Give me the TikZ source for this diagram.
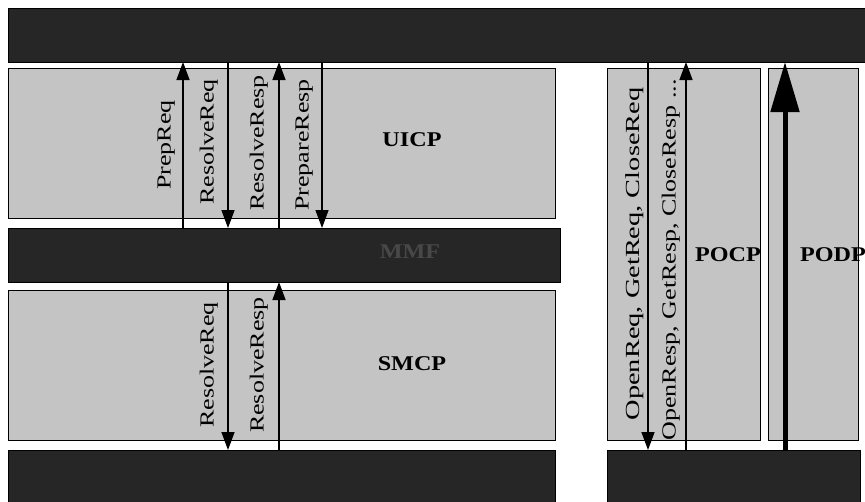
\documentclass[tikz,border=0pt]{standalone}
\usepackage{fontspec}
\setmainfont{Liberation Serif}
\usetikzlibrary{arrows.meta}
\definecolor{lightfill}{RGB}{196,196,196}
\definecolor{darkfill}{RGB}{38,38,38}
\definecolor{darktext}{RGB}{72,72,72}
\newcommand\arrlabel[1]{\scalebox{1.3}[1]{#1}}
\newcommand\longlabel[1]{\scalebox{1.42}[1]{#1}}
\newcommand\boxlabel[1]{\scalebox{1.15}[1]{\bfseries #1}}
\tikzset{
  lightbox/.style={draw=black, line width=1pt, fill=lightfill, anchor=north west, inner sep=0pt, outer sep=0pt},
  darkbar/.style={draw=black, line width=1pt, fill=darkfill, anchor=north west, inner sep=0pt, outer sep=0pt},
  msg/.style={line width=1.5pt, -{Triangle[length=18pt,width=13pt]}},
  bigmsg/.style={line width=5pt, -{Triangle[length=50pt,width=28pt]}},
  lab/.style={rotate=90, anchor=south, inner sep=0pt, font=\fontsize{20}{22}\selectfont},
  blab/.style={inner sep=0pt, font=\fontsize{21}{23}\selectfont},
}
\begin{document}
\begin{tikzpicture}[x=1pt,y=1pt]
\useasboundingbox (0,0) rectangle (865,-501);
% bars and boxes
\node[darkbar, minimum width=858pt, minimum height=54pt] (top) at (8,-8) {};
\node[lightbox, minimum width=547pt, minimum height=150pt] (uicp) at (8,-68) {};
\node[darkbar, minimum width=552pt, minimum height=54pt] (mmf) at (8,-228) {};
\node[lightbox, minimum width=547pt, minimum height=150pt] (smcp) at (8,-290) {};
\node[darkbar, minimum width=547pt, minimum height=52pt] (sma) at (8,-450) {};
\node[lightbox, minimum width=153pt, minimum height=372pt] (pocp) at (607,-68) {};
\node[lightbox, minimum width=90pt, minimum height=372pt] (podp) at (768,-68) {};
\node[darkbar, minimum width=253pt, minimum height=52pt] (pobar) at (607,-450) {};
% box labels
\node[blab] (uicpl) at (412,-140) {\boxlabel{UICP}};
\node[blab] (smcpl) at (412,-364) {\boxlabel{SMCP}};
\node[blab] (pocpl) at (728,-255) {\boxlabel{POCP}};
\node[blab] (podpl) at (833,-255) {\boxlabel{PODP}};
\node[blab, text=darktext] (mmfl) at (410,-252) {\boxlabel{MMF}};
% arrow x positions
\coordinate (x1) at (183,0);
\coordinate (x2) at (228,0);
\coordinate (x3) at (279,0);
\coordinate (x4) at (322,0);
\coordinate (x5) at (648,0);
\coordinate (x6) at (686,0);
\coordinate (x7) at (785,0);
% upper arrows
\draw[msg] (mmf.north -| x1) -- (top.south -| x1);
\draw[msg] (top.south -| x2) -- (mmf.north -| x2);
\draw[msg] (mmf.north -| x3) -- (top.south -| x3);
\draw[msg] (top.south -| x4) -- (mmf.north -| x4);
% lower arrows
\draw[msg] (mmf.south -| x2) -- (sma.north -| x2);
\draw[msg] (sma.north -| x3) -- (mmf.south -| x3);
% right arrows
\draw[msg] (top.south -| x5) -- (pobar.north -| x5);
\draw[msg] (pobar.north -| x6) -- (top.south -| x6);
\draw[bigmsg] (pobar.north -| x7) -- (top.south -| x7);
% arrow labels
\node[lab] (l1) at (175,-145) {\arrlabel{PrepReq}};
\node[lab] (l2) at (218,-142) {\arrlabel{ResolveReq}};
\node[lab] (l3) at (268,-143) {\arrlabel{ResolveResp}};
\node[lab] (l4) at (313,-145) {\arrlabel{PrepareResp}};
\node[lab] (l5) at (218,-365) {\arrlabel{ResolveReq}};
\node[lab] (l6) at (268,-365) {\arrlabel{ResolveResp}};
\node[lab] (l7) at (644,-254) {\longlabel{OpenReq, GetReq, CloseReq}};
\node[lab] (l8) at (680,-260) {\arrlabel{OpenResp, GetResp, CloseResp ...}};
\end{tikzpicture}
\end{document}
